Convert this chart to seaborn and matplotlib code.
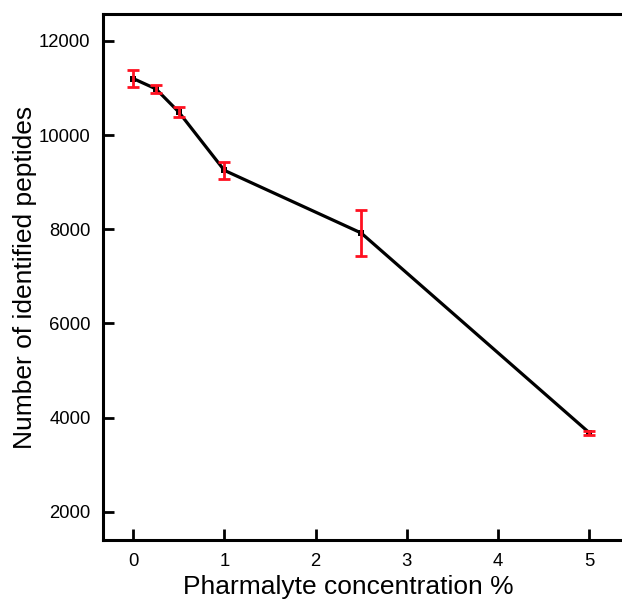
import matplotlib
matplotlib.use("Agg")
import matplotlib.pyplot as plt
import seaborn as sns
import pandas as pd
import numpy as np

concentration = [0, 0.25, 0.5, 1, 2.5, 5]
peptides = [11200, 10980, 10490, 9250, 7920, 3680]
errors = [190, 90, 110, 180, 490, 40]
xticks = [0, 1, 2, 3, 4, 5]
yticks = [2000, 4000, 6000, 8000, 10000, 12000]

sns.set_theme(style="white")
plt.rcParams['font.family'] = ['Liberation Sans', 'DejaVu Sans']

df = pd.DataFrame({"conc": concentration, "pep": peptides, "err": errors})

fig = plt.figure(figsize=(6.22, 5.99), dpi=100)
ax = fig.add_axes([103/622, 59/599, 519/622, 526/599])

sns.lineplot(data=df, x="conc", y="pep", ax=ax, color="black", linewidth=2.3,
             marker="s", markersize=4, markeredgewidth=0, zorder=2)
ax.errorbar(df["conc"], df["pep"], yerr=df["err"], fmt="none", ecolor="#ff1020",
            elinewidth=2, capsize=4.5, capthick=2, zorder=3)

ax.set_xlim(-0.33, 5.36)
ax.set_ylim(1400, 12570)
ax.set_xticks(xticks)
ax.set_yticks(yticks)
ax.set_xlabel("Pharmalyte concentration %", fontsize=19, color="black")
ax.set_ylabel("Number of identified peptides", fontsize=19, color="black")
ax.xaxis.set_label_coords(0.472, -0.067)
ax.yaxis.set_label_coords(-0.128, 0.50)
ax.tick_params(axis="both", direction="in", length=8, width=2, labelsize=13.3,
               pad=9, left=True, bottom=True, colors="black")
for s in ["left", "top", "bottom"]:
    ax.spines[s].set_linewidth(2.2)
    ax.spines[s].set_color("black")
ax.spines["right"].set_visible(False)

fig.savefig("out.png", dpi=100)
